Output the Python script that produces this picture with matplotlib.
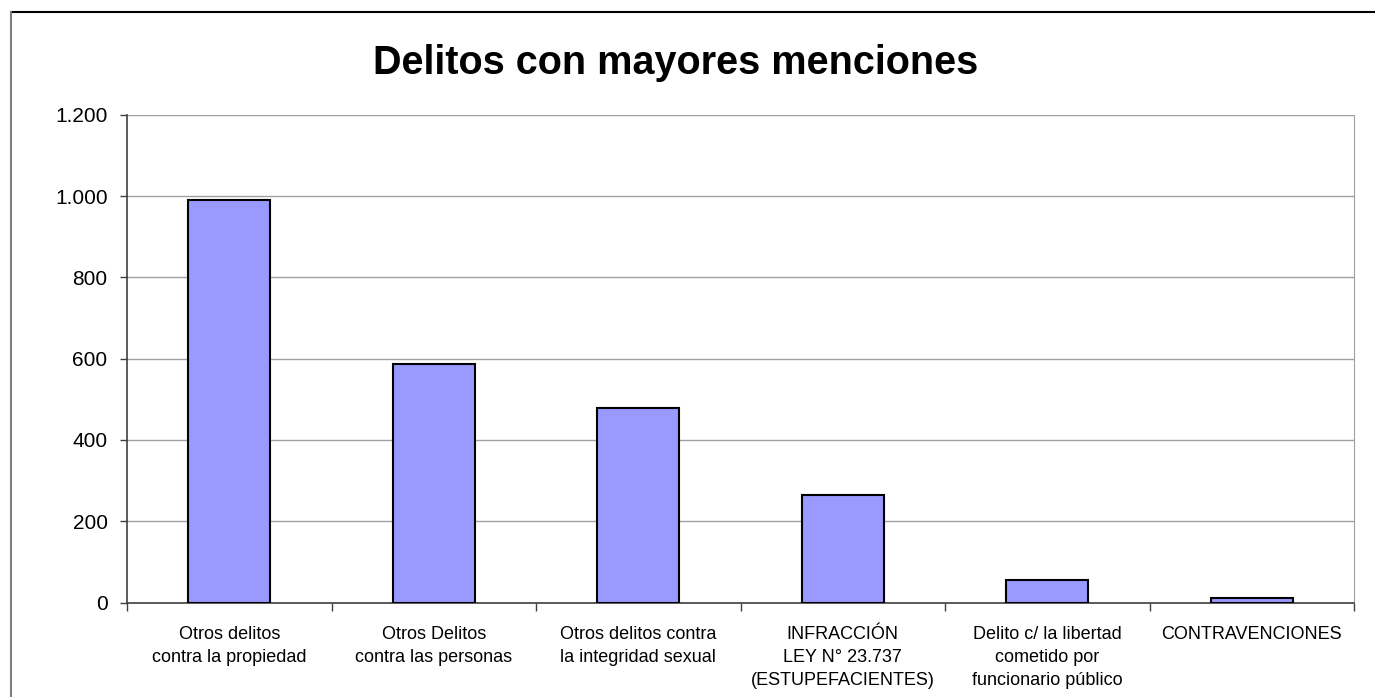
import matplotlib
matplotlib.use("Agg")
import matplotlib.pyplot as plt
from matplotlib.lines import Line2D
from matplotlib.ticker import FuncFormatter, MultipleLocator

categories = [
    "Otros delitos\ncontra la propiedad",
    "Otros Delitos\ncontra las personas",
    "Otros delitos contra\nla integridad sexual",
    "INFRACCIÓN\nLEY N° 23.737\n(ESTUPEFACIENTES)",
    "Delito c/ la libertad\ncometido por\nfuncionario público",
    "CONTRAVENCIONES",
]
values = [990, 586, 479, 264, 55, 12]
title = "Delitos con mayores menciones"

plt.rcParams['font.family'] = ['Liberation Sans', 'DejaVu Sans']

W, H = 1375, 697
fig = plt.figure(figsize=(W / 100, H / 100), dpi=100)
# outer chart frame (top black, left gray), cut by image edges
fig.lines.append(Line2D([11 / W, 1.0], [1 - 12 / H, 1 - 12 / H], transform=fig.transFigure,
                        color='black', linewidth=1.5))
fig.lines.append(Line2D([11 / W, 11 / W], [0.0, 1 - 12 / H], transform=fig.transFigure,
                        color='#808080', linewidth=1.5))

ax = fig.add_axes([127 / W, 1 - 602.5 / H, (1354 - 127) / W, (602.5 - 114.7) / H])

x = list(range(len(categories)))
ax.bar(x, values, width=0.4, color='#9999FF', edgecolor='black', linewidth=1.5, zorder=3)

ax.set_xlim(-0.5, len(categories) - 0.5)
ax.set_ylim(0, 1200)
ax.yaxis.set_major_locator(MultipleLocator(200))
ax.yaxis.set_major_formatter(FuncFormatter(lambda v, p: f"{int(v):,}".replace(",", ".")))
ax.grid(axis='y', color='#a0a0a0', linewidth=1.0, zorder=0)

ax.set_xticks([i + 0.5 for i in range(-1, len(categories))])
ax.set_xticklabels([])
ax.set_xticks(x, minor=True)
ax.set_xticklabels(categories, minor=True, fontsize=13, linespacing=1.47)
ax.tick_params(axis='x', which='minor', length=0, pad=17)
ax.tick_params(axis='x', which='major', length=6, width=1, color='#404040')
ax.tick_params(axis='y', length=5, width=1, color='#404040', labelsize=15, pad=9)

ax.spines['top'].set_visible(False)
ax.spines['right'].set_color('#a0a0a0')
ax.spines['left'].set_color('#404040')
ax.spines['bottom'].set_color('#404040')
ax.spines['left'].set_linewidth(1.2)
ax.spines['bottom'].set_linewidth(1.2)

fig.text(676 / W, 1 - 63 / H, title, ha='center', va='center', fontsize=28.5, fontweight='bold')

fig.savefig("out.png", dpi=100)
